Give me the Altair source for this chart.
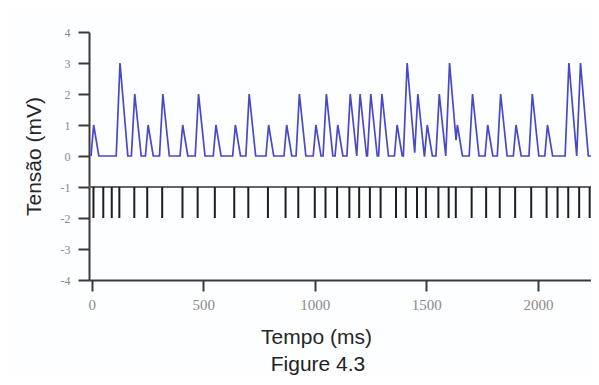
import altair as alt
import pandas as pd

# ---- data ----
spike_times = [8, 52, 90, 124, 191, 249, 316, 407, 475, 552, 639, 702, 790, 869,
               926, 1000, 1048, 1100, 1155, 1199, 1247, 1295, 1364, 1408, 1458,
               1498, 1554, 1600, 1632, 1703, 1768, 1829, 1898, 1970, 2039, 2088,
               2136, 2185, 2232]
peak_times = [9, 127, 193, 253, 319, 408, 479, 557, 644, 706, 793, 874, 931, 1005,
              1052, 1103, 1159, 1203, 1251, 1301, 1369, 1414, 1462, 1504, 1558,
              1604, 1639, 1707, 1775, 1833, 1902, 1975, 2043, 2139, 2191]
peak_heights = [1, 3, 2, 1, 2, 1, 2, 1, 1, 2,
                1, 1, 2, 1, 2, 1, 2, 2, 2, 2,
                1, 3, 2, 1, 2, 3, 1, 2, 1, 2,
                1, 2, 1, 3, 3]
rise_ms = {1: 12, 2: 15, 3: 17}   # rise time of a peak, by height
fall_ms = {1: 23, 2: 29, 3: 35}   # decay time of a peak, by height
x_ticks = [0, 500, 1000, 1500, 2000]
y_ticks = [-4, -3, -2, -1, 0, 1, 2, 3, 4]
x_domain = [-12, 2238]
y_domain = [-4, 4]
spike_top, spike_bottom = -1, -2

# ---- trace vertices: start, apex, end of each peak ----
pts = []
for t, h in zip(peak_times, peak_heights):
    s, e = t - rise_ms[h], t + fall_ms[h]
    if pts and s < pts[-1][0]:
        pe, _ = pts[-1]
        pt, ph = pts[-2]
        a = ph / (pe - pt)
        b = h / (t - s)
        xi = (a * pe + b * s) / (a + b)
        pts[-1] = (xi, b * (xi - s))
    else:
        pts.append((s, 0))
    pts.append((t, h))
    pts.append((e, 0))
pts.append((x_domain[1], 0))
trace_df = pd.DataFrame({"t": [p[0] for p in pts], "v": [p[1] for p in pts],
                         "i": list(range(len(pts)))})
spike_df = pd.DataFrame({"t": spike_times})

AX = "#3a3a3a"
x_axis = alt.Axis(values=x_ticks, format="d", grid=False,
                  domainColor=AX, domainWidth=2, tickColor=AX, tickWidth=2, tickSize=11,
                  labelFont="Liberation Serif", labelFontSize=15, labelColor="#8a8a8a",
                  labelPadding=6,
                  title="Tempo (ms)", titleFont="Liberation Sans", titleFontSize=21,
                  titleFontWeight="normal", titleColor="#262626",
                  titleX=227, titleY=63, titleBaseline="alphabetic", titleAlign="center")
y_axis = alt.Axis(values=y_ticks, labelExpr="'' + datum.value", grid=False,
                  domainColor=AX, domainWidth=2, tickColor=AX, tickWidth=2, tickSize=11,
                  labelFont="Liberation Serif", labelFontSize=12, labelColor="#8a8a8a",
                  labelPadding=8,
                  title="Tensão (mV)", titleFont="Liberation Sans", titleFontSize=21,
                  titleFontWeight="normal", titleColor="#262626",
                  titleX=-49, titleY=124, titleBaseline="alphabetic", titleAlign="center",
                  titleAngle=270)

xs = alt.Scale(domain=x_domain, nice=False, zero=False)
ys = alt.Scale(domain=y_domain, nice=False, zero=False)

baseline = alt.Chart(spike_df).mark_rule(color="#666666", strokeWidth=1.3).encode(
    y=alt.datum(spike_top, scale=ys, axis=y_axis)
)
spikes = alt.Chart(spike_df).mark_rule(color="#1e1e1e", strokeWidth=2).encode(
    x=alt.X("t:Q", scale=xs, axis=x_axis),
    y=alt.datum(spike_top, scale=ys, axis=y_axis),
    y2=alt.datum(spike_bottom),
)
trace = alt.Chart(trace_df).mark_line(color="#4848c8", strokeWidth=1.7, clip=True).encode(
    x=alt.X("t:Q", scale=xs, axis=x_axis),
    y=alt.Y("v:Q", scale=ys, axis=y_axis),
    order="i:Q",
)

chart = alt.layer(baseline, spikes, trace).properties(
    width=502, height=248,
    padding={"left": 81, "top": 24, "right": 0, "bottom": 97},
    autosize=alt.AutoSizeParams(type="none"),
    background="#fdfeff",
    title=alt.TitleParams("Figure 4.3", orient="bottom", anchor="middle", dx=-22,
                          offset=24, font="Liberation Sans", fontSize=21,
                          fontWeight="normal", color="#222222", baseline="alphabetic"),
).configure_view(stroke=None)

chart.save("out.html", embed_options={"renderer": "svg", "actions": False})
